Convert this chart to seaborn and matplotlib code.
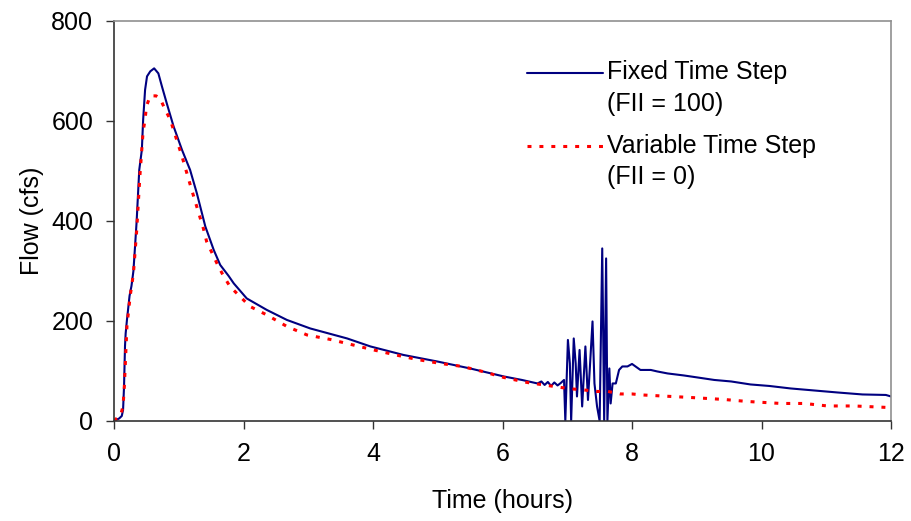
import seaborn as sns
import pandas as pd
from matplotlib import pyplot as plt
from matplotlib.lines import Line2D
from matplotlib.legend_handler import HandlerLine2D

# Fixed time step (FII = 100)
t_fixed = [0.0, 0.03, 0.08, 0.12, 0.14, 0.155, 0.17, 0.18, 0.2, 0.24, 0.27, 0.3,
           0.325, 0.35, 0.39, 0.43, 0.45, 0.48, 0.51, 0.56, 0.62, 0.685, 0.74,
           0.815, 0.92, 1.05, 1.175, 1.28, 1.41, 1.54, 1.64, 1.77, 1.85, 2.05,
           2.36, 2.67, 3.03, 3.6, 3.96, 4.47, 4.99, 5.5, 6.02, 6.3, 6.54, 6.6,
           6.65, 6.7, 6.75, 6.8, 6.85, 6.9, 6.95, 6.97, 7.01, 7.04, 7.06, 7.1,
           7.13, 7.15, 7.19, 7.23, 7.28, 7.32, 7.35, 7.39, 7.42, 7.46, 7.5, 7.54,
           7.57, 7.6, 7.62, 7.65, 7.67, 7.7, 7.75, 7.8, 7.85, 7.93, 8.0, 8.13,
           8.29, 8.39, 8.55, 8.8, 9.01, 9.27, 9.53, 9.83, 10.12, 10.45, 10.81,
           11.17, 11.56, 11.92, 12.0]
q_fixed = [0, 2, 5, 10, 22, 69, 150, 175, 202, 250, 270, 300,
           349, 400, 502, 542, 602, 662, 689, 699, 705, 695, 669,
           635, 589, 542, 502, 455, 389, 342, 312, 290, 275, 245,
           222, 202, 185, 165, 149, 132, 119, 105, 89, 82, 75, 79,
           72, 78, 70, 77, 71, 76, 82, 0, 162, 115, 0, 165,
           115, 49, 142, 29, 149, 42, 109, 199, 75, 29, 0, 345,
           0, 325, 0, 105, 35, 75, 75, 102, 109, 109, 114, 102,
           102, 99, 95, 91, 87, 82, 79, 73, 70, 65, 61,
           57, 53, 52, 49]

# Variable time step (FII = 0)
t_var = [0.0, 0.04, 0.1, 0.14, 0.16, 0.2, 0.25, 0.3, 0.35, 0.4, 0.45, 0.48, 0.5,
         0.56, 0.65, 0.71, 0.8, 0.87, 1.05, 1.2, 1.38, 1.43, 1.59, 1.67, 1.79,
         2.1, 2.36, 2.67, 2.98, 3.34, 4.01, 4.35, 4.68, 5.04, 5.38, 5.69, 6.02,
         6.38, 6.9, 7.08, 7.26, 7.45, 7.63, 7.82, 8.0, 8.16, 8.9, 9.42, 9.78,
         10.3, 10.66, 11.02, 11.43, 11.95, 12.0]
q_var = [0, 5, 10, 30, 70, 190, 250, 295, 380, 490, 580, 602, 629,
         650, 650, 645, 620, 602, 529, 462, 385, 359, 315, 295, 269,
         229, 212, 189, 172, 163, 142, 132, 123, 115, 109, 99, 87,
         77, 67, 64, 62, 59, 59, 54, 54, 52, 47, 43, 39,
         35, 35, 30, 30, 27, 27]

labels = ['Fixed Time Step\n(FII = 100)', 'Variable Time Step\n(FII = 0)']


# legend line sits next to the first text line, like Excel does it
class HandlerTopLine(HandlerLine2D):
    def __init__(self, shift, **kw):
        super().__init__(**kw)
        self.shift = shift

    def create_artists(self, legend, orig_handle, xdescent, ydescent,
                       width, height, fontsize, trans):
        return super().create_artists(legend, orig_handle, xdescent,
                                      ydescent - 2 * self.shift, width,
                                      height, fontsize, trans)


df_fixed = pd.DataFrame({'Time': t_fixed, 'Flow': q_fixed})
df_var = pd.DataFrame({'Time': t_var, 'Flow': q_var})

sns.set_style('white')
plt.rcParams['font.family'] = ['Liberation Sans', 'DejaVu Sans']
plt.rcParams['text.color'] = 'black'
plt.rcParams['axes.labelcolor'] = 'black'
plt.rcParams['xtick.color'] = 'black'
plt.rcParams['ytick.color'] = 'black'

fig, ax = plt.subplots(figsize=(9.12, 5.21), dpi=100)
fig.subplots_adjust(left=0.125, right=0.977, top=0.96, bottom=0.192)

sns.lineplot(data=df_fixed, x='Time', y='Flow', ax=ax, color='#000080',
             linewidth=1.5, label=labels[0])
sns.lineplot(data=df_var, x='Time', y='Flow', ax=ax, color='#ff0000',
             linewidth=2.2, linestyle=(0, (1.3, 2.6)), label=labels[1])

fs = 18
ax.set_xlim(0, 12)
ax.set_ylim(0, 800)
ax.set_xticks(range(0, 13, 2))
ax.set_yticks(range(0, 801, 200))
ax.set_xlabel('Time (hours)', fontsize=fs, labelpad=17)
ax.set_ylabel('Flow (cfs)', fontsize=fs, labelpad=5)
ax.tick_params(axis='both', direction='out', length=6, width=1, labelsize=fs,
               pad=9, left=True, bottom=True, color='#333333')

for side in ['left', 'bottom']:
    ax.spines[side].set_color('#333333')
    ax.spines[side].set_linewidth(1.2)
for side in ['top', 'right']:
    ax.spines[side].set_color('#909090')
    ax.spines[side].set_linewidth(1.2)

leg = ax.legend(loc='upper left', bbox_to_anchor=(0.502, 0.958), frameon=False,
                fontsize=fs, handlelength=3.05, handletextpad=0.15,
                labelspacing=0.72,
                handler_map={Line2D: HandlerTopLine(11.5)})
for t in leg.get_texts():
    t.set_linespacing(1.4)

fig.savefig('out.png', dpi=100)
